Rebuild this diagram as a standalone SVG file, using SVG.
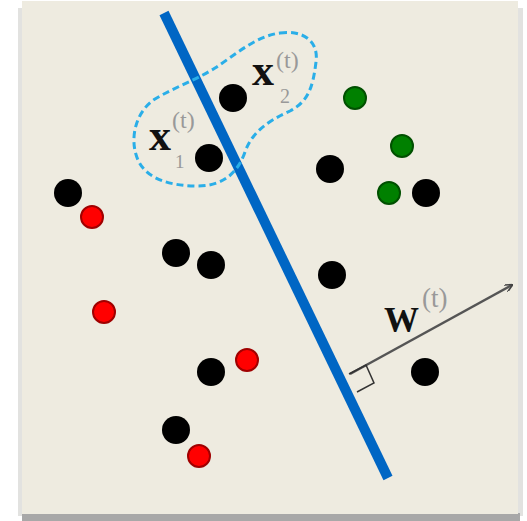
<svg xmlns="http://www.w3.org/2000/svg" width="527" height="521" viewBox="0 0 527 521">
<style>
.blk{fill:#000;}
.red{fill:#ff0000;stroke:#a00000;stroke-width:2;}
.grn{fill:#008000;stroke:#005000;stroke-width:2;}
.lbl{font-family:"Liberation Serif",serif;font-weight:bold;fill:#111;}
.sup{font-family:"Liberation Serif",serif;fill:#999;}
</style>
<defs>
<marker id="ah" viewBox="0 0 10 10" refX="9" refY="5" markerWidth="8" markerHeight="8" orient="auto" markerUnits="userSpaceOnUse">
<path d="M0,0 L10,5 L0,10" fill="none" stroke="#444" stroke-width="2"/>
</marker>
</defs>
<rect x="0" y="0" width="527" height="521" fill="#ffffff"/>
<rect x="18" y="8" width="505" height="508" fill="#e2e2e0"/>
<rect x="22" y="513" width="498" height="8" fill="#a8a8a8"/>
<rect x="22" y="1" width="496" height="513" fill="#eeebe0"/>
<g id="connectors">
<line id="boundary" x1="164" y1="13" x2="388" y2="478" stroke="#0066c4" stroke-width="10"/>
<path id="cluster" d="M 280,33 C 302,30 319,40 316,62 C 313,86 309,101 290,111 C 268,121 252,132 245,152 C 238,172 224,186 198,186 C 172,186 147,180 138,160 C 129,140 135,112 155,99 C 175,87 196,80 215,68 C 235,55 256,36 280,33 Z" fill="none" stroke="#2aaee8" stroke-width="3" stroke-dasharray="7,4"/>
<line id="normal" x1="350" y1="374" x2="512" y2="285" stroke="#555" stroke-width="2.5" marker-end="url(#ah)"/>
<path id="rightangle" d="M 349,374 L 366,365 L 374,383 L 357,392" fill="none" stroke="#333" stroke-width="1.5"/>
</g>
<g id="points-black">
<circle class="blk" cx="68" cy="193" r="14"/>
<circle class="blk" cx="176" cy="253" r="14"/>
<circle class="blk" cx="211" cy="265" r="14"/>
<circle class="blk" cx="211" cy="372" r="14"/>
<circle class="blk" cx="176" cy="430" r="14"/>
<circle class="blk" cx="233" cy="98" r="14"/>
<circle class="blk" cx="209" cy="158" r="14"/>
<circle class="blk" cx="330" cy="169" r="14"/>
<circle class="blk" cx="426" cy="193" r="14"/>
<circle class="blk" cx="332" cy="275" r="14"/>
<circle class="blk" cx="425" cy="372" r="14"/>
</g>
<g id="points-red">
<circle class="red" cx="92" cy="217" r="11"/>
<circle class="red" cx="104" cy="312" r="11"/>
<circle class="red" cx="247" cy="360" r="11"/>
<circle class="red" cx="199" cy="456" r="11"/>
</g>
<g id="points-green">
<circle class="grn" cx="355" cy="98" r="11"/>
<circle class="grn" cx="402" cy="146" r="11"/>
<circle class="grn" cx="389" cy="193" r="11"/>
</g>
<g id="label-x2">
<text class="lbl" x="252" y="85" font-size="44">x</text>
<text class="sup" x="276" y="68" font-size="24">(t)</text>
<text class="sup" x="280" y="103" font-size="20">2</text>
</g>
<g id="label-x1">
<text class="lbl" x="149" y="150" font-size="44">x</text>
<text class="sup" x="172" y="128" font-size="24">(t)</text>
<text class="sup" x="175" y="168" font-size="19">1</text>
</g>
<g id="label-w">
<text class="lbl" x="384" y="332" font-size="35">W</text>
<text class="sup" x="422" y="307" font-size="27">(t)</text>
</g>
</svg>
